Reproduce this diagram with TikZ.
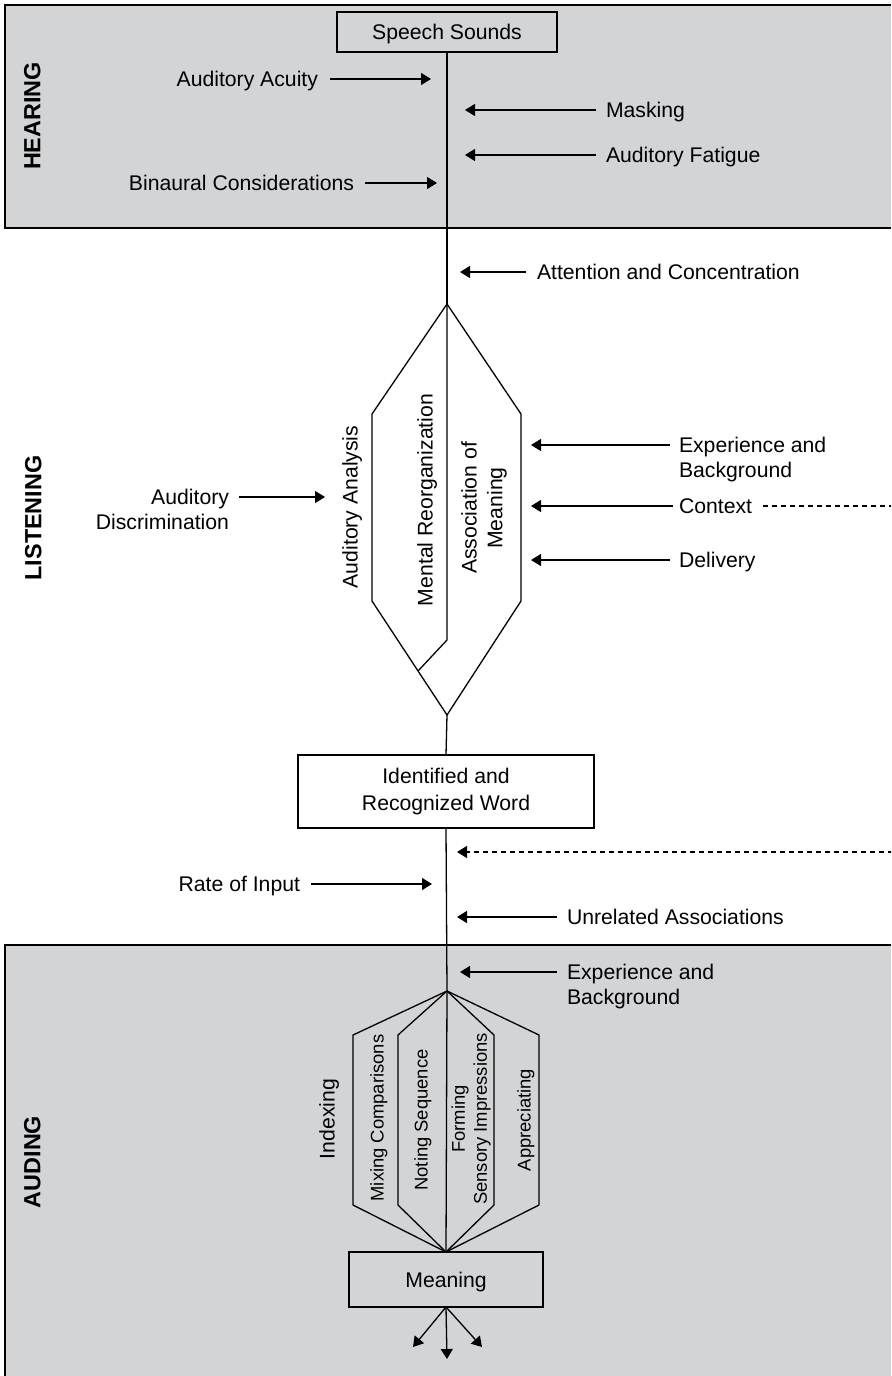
\documentclass[tikz,border=0pt]{standalone}
\usepackage{fontspec}
\setmainfont{Liberation Sans}
\usetikzlibrary{arrows.meta}
\definecolor{bandgray}{RGB}{211,212,214}
\begin{document}
\begin{tikzpicture}[x=0.5pt,y=-0.5pt,line width=0.65pt,
  every node/.style={inner sep=0pt,outer sep=0pt},
  lbl/.style={font=\fontsize{10.6}{12.8}\selectfont,text height=7.6pt,text depth=0pt},
  lbltwo/.style={font=\fontsize{10.6}{12.8}\selectfont,align=#1},
  lbltwo/.default=left,
  small/.style={font=\fontsize{9.2}{11}\selectfont,text height=6.6pt,text depth=0pt,rotate=90},
  smalltwo/.style={font=\fontsize{9.2}{11}\selectfont,align=center,rotate=90},
  bandlabel/.style={font=\fontsize{11.7}{14}\selectfont\bfseries,text height=8.4pt,text depth=0pt,rotate=90},
  boxnode/.style={draw,font=\fontsize{10.6}{13.5}\selectfont,align=center},
  flow/.style={-{Triangle[length=5pt,width=6pt]}},
  dashflow/.style={flow,dash pattern=on 2.5pt off 2pt}]
\useasboundingbox (0,0) rectangle (891,1376);

% shaded bands for hearing and auding
\fill[bandgray] (5,5) rectangle (891,228);
\draw (891,5) -- (5,5) -- (5,228) -- (891,228);
\fill[bandgray] (5,945) rectangle (891,1376);
\draw (891,945) -- (5,945) -- (5,1376);

\node[bandlabel] (hearing) at (32,116) {HEARING};
\node[bandlabel] (listening) at (33,518) {LISTENING};
\node[bandlabel] (auding) at (32,1162) {AUDING};

% main boxes
\node[boxnode,text height=7.6pt,text depth=0pt,minimum width=110pt,minimum height=20pt] (speech) at (447,32) {Speech Sounds};
\node[boxnode,minimum width=148pt,minimum height=36.5pt] (ident) at (446,791.5) {Identified and\\Recognized Word};
\node[boxnode,text height=7.6pt,text depth=0pt,minimum width=97pt,minimum height=27.5pt] (meaning) at (446,1279.5) {Meaning};

% listening hexagon
\coordinate (htop) at (447,304);
\coordinate (hne) at (521,414);
\coordinate (hse) at (521,601);
\coordinate (hbot) at (447,715);
\coordinate (hsw) at (372,601);
\coordinate (hnw) at (372,414);
\coordinate (hmid) at (447,640);
\coordinate (hjoin) at (418,671);

\draw (speech.south) -- (htop);
\draw (htop) -- (hne) -- (hse) -- (hbot) -- (hsw) -- (hnw) -- cycle;
\draw (htop) -- (hmid) -- (hjoin);
\draw (hbot) -- (ident.north);

\node[lbl,rotate=90] (analysis) at (350,507) {Auditory Analysis};
\node[lbl,rotate=90] (reorg) at (425,500) {Mental Reorganization};
\node[lbltwo=center,rotate=90] (assoc) at (484,508) {Association of\\Meaning};

% auding fan
\coordinate (ftop) at (447,991);
\coordinate (fa) at (353,1035);
\coordinate (fb) at (398,1035);
\coordinate (fc) at (494,1035);
\coordinate (fd) at (539,1035);
\coordinate (ga) at (353,1205);
\coordinate (gb) at (398,1205);
\coordinate (gc) at (494,1205);
\coordinate (gd) at (539,1205);

\draw (ident.south) -- (ftop);
\draw (ftop) -- (fa) -- (ga) -- (meaning.north);
\draw (ftop) -- (fb) -- (gb) -- (meaning.north);
\draw (ftop) -- (fc) -- (gc) -- (meaning.north);
\draw (ftop) -- (fd) -- (gd) -- (meaning.north);
\draw (ftop) -- (meaning.north);

\node[lbl,rotate=90] (indexing) at (327,1119) {Indexing};
\node[small] (mixing) at (377,1118) {Mixing Comparisons};
\node[small] (noting) at (421,1120) {Noting Sequence};
\node[smalltwo] (forming) at (471,1119) {Forming\\Sensory Impressions};
\node[small] (apprec) at (524,1120) {Appreciating};

% outputs of meaning
\coordinate (outl) at (413,1347);
\coordinate (outc) at (447,1359);
\coordinate (outr) at (482,1347);
\draw[flow] (meaning.south) -- (outl);
\draw[flow] (meaning.south) -- (outc);
\draw[flow] (meaning.south) -- (outr);

% hearing factors
\node[lbl,anchor=east] (acuity) at (318,79) {Auditory Acuity};
\node[lbl,anchor=west] (masking) at (606,110) {Masking};
\node[lbl,anchor=west] (fatigue) at (606,155) {Auditory Fatigue};
\node[lbl,anchor=east] (binaural) at (354,183) {Binaural Considerations};
\coordinate (acuityT) at (431,79);
\coordinate (maskingT) at (465,110);
\coordinate (fatigueT) at (465,155);
\coordinate (binauralT) at (437,183);
\draw[flow] ([xshift=6pt]acuity.east) -- (acuityT);
\draw[flow] ([xshift=-5pt]masking.west) -- (maskingT);
\draw[flow] ([xshift=-5pt]fatigue.west) -- (fatigueT);
\draw[flow] ([xshift=5.5pt]binaural.east) -- (binauralT);

% listening factors
\node[lbl,anchor=west] (attention) at (537,272) {Attention and Concentration};
\node[lbltwo=right,anchor=north east] (discrim) at (229,489) {Auditory\\Discrimination};
\node[lbltwo,anchor=north west] (exper) at (679,437) {Experience and\\Background};
\node[lbl,anchor=west] (context) at (679,506) {Context};
\node[lbl,anchor=west] (delivery) at (679,560) {Delivery};
\coordinate (attentionT) at (460,272);
\coordinate (discrimT) at (325,497);
\coordinate (experT) at (531,445);
\coordinate (contextT) at (531,506);
\coordinate (deliveryT) at (531,560);
\draw[flow] ([xshift=-5.5pt]attention.west) -- (attentionT);
\draw[flow] ([shift={(5pt,-4pt)}]discrim.north east) -- (discrimT);
\draw[flow] ([shift={(-4.5pt,-4pt)}]exper.north west) -- (experT);
\draw[flow] ([xshift=-3pt]context.west) -- (contextT);
\draw[flow] ([xshift=-4.5pt]delivery.west) -- (deliveryT);

\node[lbl,anchor=east] (rate) at (300,884) {Rate of Input};
\node[lbl,anchor=west] (unrel) at (567,917) {Unrelated Associations};
\node[lbltwo,anchor=north west] (exper2) at (567,964) {Experience and\\Background};
\coordinate (rateT) at (432,884);
\coordinate (unrelT) at (457,917);
\coordinate (exper2T) at (460,972);
\coordinate (contextR) at (457,852);
\draw[flow] ([xshift=5.5pt]rate.east) -- (rateT);
\draw[flow] ([xshift=-5pt]unrel.west) -- (unrelT);
\draw[flow] ([shift={(-5pt,-4pt)}]exper2.north west) -- (exper2T);

% context feeds back in below the recognized word, routed past the right edge
\begin{scope}
\clip (0,0) rectangle (891,1376);
\draw[dashflow] ([xshift=5.5pt]context.east) -- (898,506) |- (contextR);
\end{scope}
\end{tikzpicture}
\end{document}
